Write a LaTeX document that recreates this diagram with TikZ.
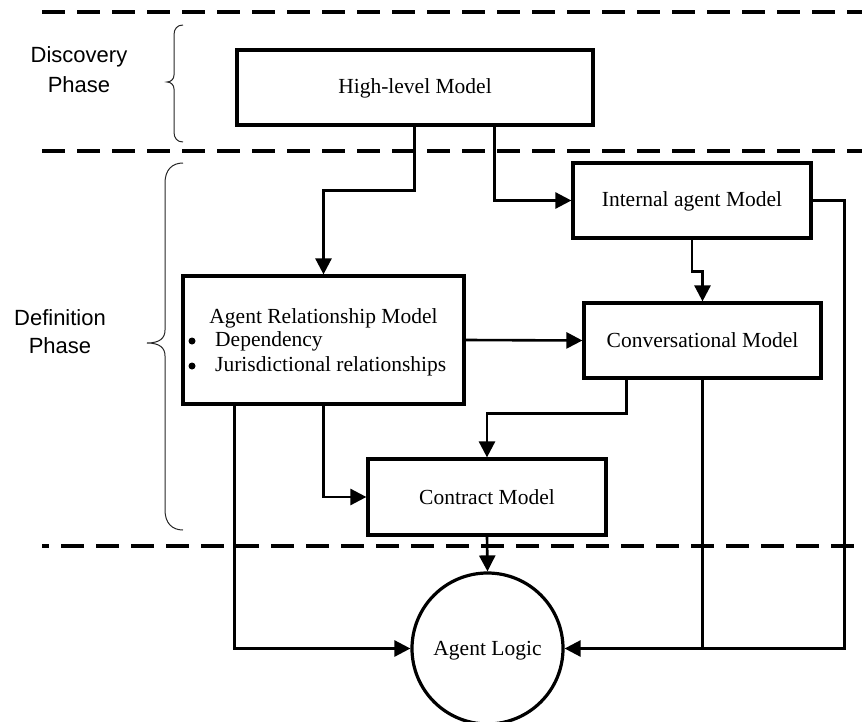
\documentclass[tikz,border=0pt]{standalone}
\usepackage{fontspec}
\setmainfont{Liberation Serif}
\newfontfamily\labelfont{Liberation Sans}
\usetikzlibrary{arrows.meta,calc}
\tikzset{
  x=1pt, y=-1pt,
  box/.style={draw, line width=3.2pt, rectangle, inner sep=0pt},
  txt/.style={font=\fontsize{21.5}{25}\selectfont, inner sep=0pt, anchor=base},
  lbl/.style={font=\labelfont\fontsize{22}{29}\selectfont, inner sep=0pt, anchor=base},
  bul/.style={circle, fill, minimum size=7pt, inner sep=0pt},
  conn/.style={line width=2.6pt},
  arr/.style={conn, -{Triangle[length=16pt,width=16pt]}},
  phase/.style={line width=4pt, dash pattern=on 23pt off 12pt},
  brace/.style={line width=1pt, draw=black!85},
}
\begin{document}
\begin{tikzpicture}
\useasboundingbox (0,0) rectangle (862,722);
% phase separators
\coordinate (d1a) at (42,12);  \coordinate (d1b) at (862,12);
\coordinate (d2a) at (42,151); \coordinate (d2b) at (862,151);
\coordinate (d3a) at (42,546); \coordinate (d3b) at (862,546);
\draw[phase] (d1a) -- (d1b);
\draw[phase] (d2a) -- (d2b);
\draw[phase, dash phase=16pt] (d3a) -- (d3b);
% braces
\draw[brace] (183,25) .. controls (177,25) and (174,29) .. (174,35) -- (174,75)
  .. controls (174,79) and (171,82) .. (167,82)
  .. controls (171,82) and (174,85) .. (174,89) -- (174,132)
  .. controls (174,138) and (177,142) .. (183,142);
\draw[brace] (183,163) .. controls (172,163) and (165,170) .. (165,183) -- (165,330)
  .. controls (165,338) and (160,343) .. (147,343)
  .. controls (160,343) and (165,348) .. (165,356) -- (165,510)
  .. controls (165,523) and (172,530) .. (183,530);
% phase labels
\node[lbl] (disc1) at (79,63) {Discovery};
\node[lbl] (disc2) at (79,93) {Phase};
\node[lbl] (def1) at (60,325) {Definition};
\node[lbl] (def2) at (60,353) {Phase};
% boxes
\node[box, minimum width=356pt, minimum height=75pt] (hl) at (415,87.5) {};
\node[txt] (hlt) at (415,94) {High-level Model};
\node[box, minimum width=238pt, minimum height=75pt] (int) at (692,200.5) {};
\node[txt] (intt) at (692,207) {Internal agent Model};
\node[box, minimum width=237pt, minimum height=75pt] (conv) at (702.5,340.5) {};
\node[txt] (convt) at (702.5,347) {Conversational Model};
\node[box, minimum width=281pt, minimum height=128pt] (arm) at (323.5,340) {};
\node[txt] (armt) at (323.5,323) {Agent Relationship Model};
\node[bul] (b1) at (192,341) {};
\node[txt, anchor=base west] (armd) at (215,346) {Dependency};
\node[bul] (b2) at (192,366) {};
\node[txt, anchor=base west] (armj) at (215,371) {Jurisdictional relationships};
\node[box, minimum width=238pt, minimum height=76pt] (con) at (487,497) {};
\node[txt] (cont) at (487,504) {Contract Model};
\node[draw, circle, line width=3.2pt, minimum size=151pt, inner sep=0pt] (logic) at (487.5,648.5) {};
\node[txt] (logict) at (487.5,655) {Agent Logic};
% connectors
\draw[arr] ($(hl.south west)+(179,0)$) -- ++(0,64) -| (arm.north);
\draw[arr] ($(hl.south west)+(259,0)$) |- (int.west);
\draw[arr] (int.south) -- ++(0,32) -| (conv.north);
\draw[arr] (arm.east) -- (conv.west);
\draw[arr] ($(conv.south west)+(44,0)$) -- ++(0,34) -| (con.north);
\draw[arr] (arm.south) |- (con.west);
\draw[arr] (con.south) -- (logic.north);
\draw[arr] ($(arm.south west)+(53,0)$) |- (logic.west);
\draw[arr] (int.east) -- ++(32,0) |- (logic.east);
\draw[conn] (conv.south) -- (conv.south |- logic.east);
\end{tikzpicture}
\end{document}
